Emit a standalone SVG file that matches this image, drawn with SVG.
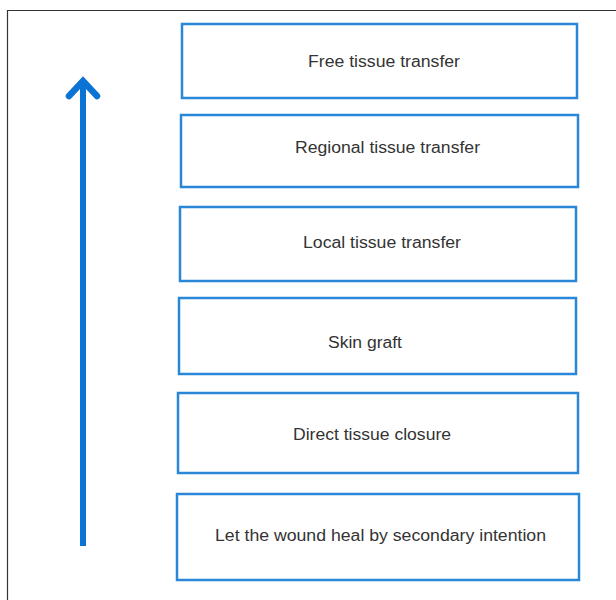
<svg xmlns="http://www.w3.org/2000/svg" width="616" height="600" viewBox="0 0 616 600">
<style>
.box{fill:#fff;stroke:#2a87d8;stroke-width:2.5}
.lbl{font-family:"Liberation Sans",Arial,sans-serif;font-size:16px;fill:#333;text-anchor:middle;dominant-baseline:central}
</style>
<rect width="616" height="600" fill="#fff"/>
<path d="M7.5 600 V10.5 H616" fill="none" stroke="#333" stroke-width="1.2"/>
<g id="connectors">
<line x1="83" y1="546" x2="83" y2="84" stroke="#0b73d4" stroke-width="6"/>
<polyline points="69,96 83,81 97,96" fill="none" stroke="#0b73d4" stroke-width="6.5" stroke-linecap="round" stroke-linejoin="miter"/>
</g>
<g id="n1"><rect class="box" x="182" y="24" width="395" height="74"/><text class="lbl" x="384" y="61" textLength="152" lengthAdjust="spacingAndGlyphs">Free tissue transfer</text></g>
<g id="n2"><rect class="box" x="181" y="115" width="397" height="72"/><text class="lbl" x="387.5" y="147" textLength="185" lengthAdjust="spacingAndGlyphs">Regional tissue transfer</text></g>
<g id="n3"><rect class="box" x="180" y="207" width="396" height="74"/><text class="lbl" x="382" y="242" textLength="158" lengthAdjust="spacingAndGlyphs">Local tissue transfer</text></g>
<g id="n4"><rect class="box" x="179" y="298" width="397" height="76"/><text class="lbl" x="365" y="342" textLength="74" lengthAdjust="spacingAndGlyphs">Skin graft</text></g>
<g id="n5"><rect class="box" x="178" y="393" width="400" height="80"/><text class="lbl" x="372" y="434" textLength="158" lengthAdjust="spacingAndGlyphs">Direct tissue closure</text></g>
<g id="n6"><rect class="box" x="177" y="494" width="402" height="86"/><text class="lbl" x="380.5" y="535" textLength="331" lengthAdjust="spacingAndGlyphs">Let the wound heal by secondary intention</text></g>
</svg>
